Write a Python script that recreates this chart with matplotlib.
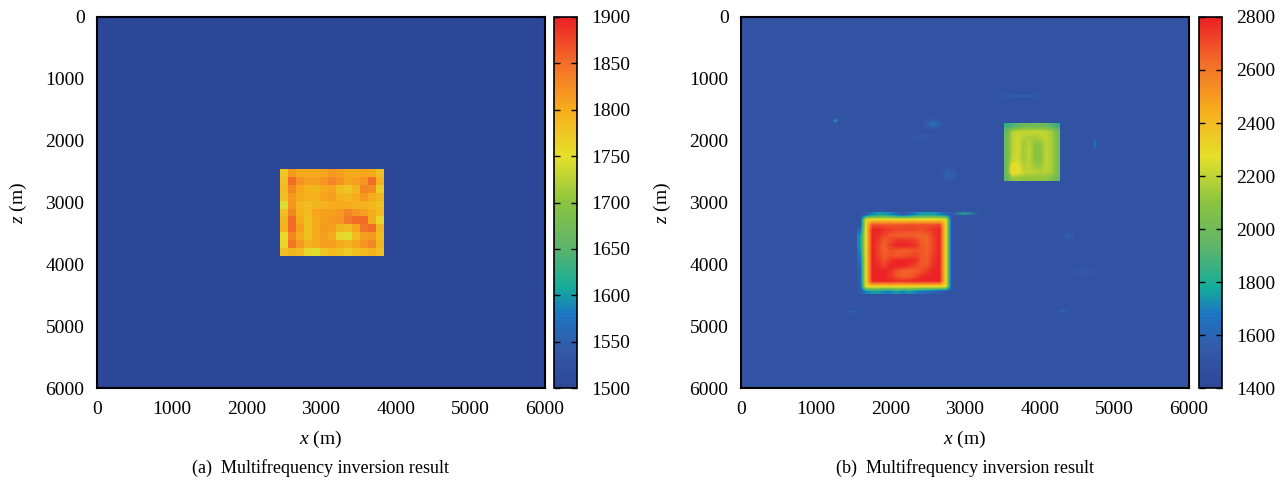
import numpy as np
import matplotlib
matplotlib.use("Agg")
import matplotlib.pyplot as plt
from matplotlib.colors import LinearSegmentedColormap

plt.rcParams['font.family'] = ['Liberation Serif', 'DejaVu Serif']
plt.rcParams['mathtext.fontset'] = 'custom'
plt.rcParams['mathtext.rm'] = 'Liberation Serif'
plt.rcParams['mathtext.it'] = 'Liberation Serif:italic'

# ---------------- data ----------------
domain = [0, 6000]
ticks_xy = [0, 1000, 2000, 3000, 4000, 5000, 6000]

# panel (a)
a_vmin, a_vmax = 1500, 1900
a_ticks = [1500, 1550, 1600, 1650, 1700, 1750, 1800, 1850, 1900]
a_background = 1500
a_block_x = [2451, 3834]
a_block_z = [2474, 3865]
a_block = np.array([
    [1775, 1815, 1800, 1800, 1800, 1805, 1815, 1810, 1800, 1800, 1805, 1800, 1780],
    [1780, 1850, 1820, 1810, 1810, 1820, 1830, 1820, 1805, 1810, 1820, 1850, 1795],
    [1785, 1830, 1805, 1795, 1790, 1800, 1805, 1785, 1775, 1790, 1830, 1825, 1770],
    [1780, 1815, 1800, 1795, 1795, 1805, 1810, 1795, 1790, 1800, 1815, 1800, 1790],
    [1745, 1820, 1790, 1785, 1790, 1795, 1800, 1800, 1800, 1795, 1795, 1790, 1780],
    [1780, 1830, 1795, 1785, 1805, 1810, 1810, 1815, 1830, 1820, 1810, 1800, 1785],
    [1790, 1850, 1800, 1780, 1800, 1810, 1815, 1820, 1840, 1850, 1850, 1800, 1760],
    [1795, 1850, 1810, 1780, 1800, 1815, 1810, 1790, 1785, 1805, 1845, 1850, 1790],
    [1755, 1830, 1800, 1780, 1800, 1810, 1800, 1760, 1745, 1785, 1810, 1815, 1785],
    [1760, 1845, 1815, 1795, 1800, 1810, 1810, 1800, 1795, 1805, 1820, 1830, 1790],
    [1780, 1790, 1785, 1760, 1745, 1775, 1785, 1780, 1770, 1780, 1785, 1795, 1780],
])

# panel (b)
b_vmin, b_vmax = 1400, 2800
b_ticks = [1400, 1600, 1800, 2000, 2200, 2400, 2600, 2800]
b_background = 1500
b_red_x = [1560, 2870]
b_red_z = [3170, 4480]
b_red = np.array([
    [1500, 1550, 1700, 1750, 1750, 1700, 1600, 1550, 1600, 1700, 1750, 1750, 1750, 1700, 1600, 1550],
    [1500, 2330, 2330, 2330, 2330, 2330, 2330, 2330, 2330, 2330, 2330, 2330, 2330, 2330, 2330, 1500],
    [1500, 2330, 2700, 2690, 2680, 2680, 2680, 2690, 2700, 2700, 2690, 2690, 2700, 2720, 2330, 1500],
    [1600, 2330, 2790, 2790, 2760, 2740, 2720, 2720, 2720, 2710, 2700, 2720, 2760, 2790, 2330, 1500],
    [1700, 2330, 2790, 2770, 2720, 2680, 2660, 2650, 2660, 2650, 2640, 2660, 2740, 2790, 2330, 1500],
    [1720, 2330, 2790, 2740, 2670, 2700, 2750, 2760, 2740, 2720, 2660, 2640, 2720, 2790, 2330, 1500],
    [1720, 2330, 2790, 2720, 2650, 2740, 2790, 2790, 2790, 2760, 2680, 2650, 2720, 2790, 2330, 1500],
    [1680, 2330, 2790, 2720, 2650, 2700, 2680, 2660, 2670, 2690, 2680, 2650, 2730, 2790, 2330, 1500],
    [1650, 2330, 2790, 2730, 2660, 2690, 2670, 2680, 2700, 2720, 2680, 2660, 2740, 2790, 2330, 1500],
    [1620, 2330, 2790, 2750, 2690, 2760, 2790, 2790, 2790, 2770, 2680, 2670, 2750, 2790, 2330, 1500],
    [1580, 2330, 2790, 2770, 2730, 2790, 2790, 2790, 2760, 2720, 2670, 2690, 2770, 2790, 2330, 1500],
    [1550, 2330, 2790, 2790, 2790, 2760, 2690, 2650, 2640, 2660, 2690, 2740, 2790, 2790, 2330, 1500],
    [1580, 2330, 2790, 2790, 2790, 2750, 2680, 2650, 2660, 2700, 2760, 2790, 2790, 2790, 2330, 1500],
    [1550, 2330, 2790, 2790, 2790, 2790, 2770, 2760, 2770, 2790, 2790, 2790, 2790, 2790, 2330, 1500],
    [1520, 2330, 2330, 2330, 2330, 2330, 2330, 2330, 2330, 2330, 2330, 2330, 2330, 2330, 2330, 1500],
    [1550, 1700, 1750, 1750, 1700, 1700, 1750, 1700, 1750, 1700, 1650, 1620, 1600, 1550, 1520, 1500],
])
b_green_x = [3522, 4272]
b_green_z = [1714, 2652]
b_green = np.array([
    [1850, 1880, 1950, 1980, 2000, 2000, 2000, 1980, 1920, 1850],
    [1980, 2180, 2200, 2210, 2210, 2220, 2210, 2200, 2150, 2020],
    [1990, 2190, 2230, 2180, 2160, 2160, 2180, 2210, 2160, 2030],
    [1990, 2190, 2230, 2140, 2180, 2110, 2110, 2200, 2160, 2030],
    [1990, 2190, 2230, 2140, 2200, 2100, 2090, 2200, 2160, 2030],
    [1990, 2190, 2230, 2140, 2200, 2100, 2090, 2200, 2160, 2030],
    [1990, 2220, 2240, 2150, 2200, 2110, 2100, 2200, 2160, 2030],
    [1990, 2310, 2280, 2170, 2200, 2140, 2120, 2200, 2160, 2030],
    [1990, 2330, 2280, 2210, 2200, 2180, 2180, 2190, 2150, 2030],
    [1950, 2120, 2120, 2110, 2110, 2110, 2110, 2100, 2060, 1980],
])
# small artefacts in (b): centre x, centre z, width, height, value
art_x = [1272, 2571, 2420, 2786, 3760, 4741, 4379, 4600, 4310, 1500, 2990]
art_z = [1682, 1730, 1950, 2555, 1278, 2054, 3558, 4120, 4771, 4771, 3186]
art_w = [60, 220, 250, 200, 700, 50, 150, 300, 130, 160, 300]
art_h = [70, 140, 120, 200, 45, 160, 150, 120, 50, 50, 50]
art_v = [1750, 1680, 1570, 1620, 1600, 1660, 1590, 1570, 1620, 1600, 1800]

captions = ["(a)  Multifrequency inversion result", "(b)  Multifrequency inversion result"]

# ---------------- colormap ----------------
cmap = LinearSegmentedColormap.from_list("rainbowish", [
    (0.00, "#2c4797"),
    (0.10, "#3558a8"),
    (0.20, "#1c77c3"),
    (0.27, "#14ac9c"),
    (0.375, "#5bb46c"),
    (0.50, "#8bc43f"),
    (0.625, "#e6e02b"),
    (0.75, "#f7ad1c"),
    (0.875, "#f36f29"),
    (1.00, "#ec2026"),
])

W, H = 1286, 494
fig = plt.figure(figsize=(W / 100, H / 100), dpi=100)

def fx(px):
    return px / W

def fy(py):
    return 1 - py / H

ax_a = fig.add_axes([fx(97), fy(388), fx(448), 371 / H])
cax_a = fig.add_axes([fx(554), fy(388), fx(23), 371 / H])
ax_b = fig.add_axes([fx(741), fy(388), fx(448), 371 / H])
cax_b = fig.add_axes([fx(1199), fy(388), fx(23), 371 / H])

ext_full = (domain[0], domain[1], domain[1], domain[0])

# panel a
im_a = ax_a.imshow([[a_background]], extent=ext_full, cmap=cmap, vmin=a_vmin, vmax=a_vmax,
                   interpolation='nearest', aspect='auto')
ax_a.imshow(a_block, extent=(a_block_x[0], a_block_x[1], a_block_z[1], a_block_z[0]),
            cmap=cmap, vmin=a_vmin, vmax=a_vmax, interpolation='nearest', aspect='auto')

# panel b
im_b = ax_b.imshow([[b_background]], extent=ext_full, cmap=cmap, vmin=b_vmin, vmax=b_vmax,
                   interpolation='nearest', aspect='auto')
for x, z, w, h, v in zip(art_x, art_z, art_w, art_h, art_v):
    patch = [[b_background] * 3, [b_background, v, b_background], [b_background] * 3]
    ax_b.imshow(patch, extent=(x - w, x + w, z + h, z - h), cmap=cmap, vmin=b_vmin, vmax=b_vmax,
                interpolation='bilinear', aspect='auto')
ax_b.imshow(b_red, extent=(b_red_x[0], b_red_x[1], b_red_z[1], b_red_z[0]),
            cmap=cmap, vmin=b_vmin, vmax=b_vmax, interpolation='bilinear', aspect='auto')
ax_b.imshow(b_green, extent=(b_green_x[0], b_green_x[1], b_green_z[1], b_green_z[0]),
            cmap=cmap, vmin=b_vmin, vmax=b_vmax, interpolation='bilinear', aspect='auto')

for ax, cax, im, ticks, cap in [(ax_a, cax_a, im_a, a_ticks, captions[0]),
                                (ax_b, cax_b, im_b, b_ticks, captions[1])]:
    ax.set_xlim(domain[0], domain[1])
    ax.set_ylim(domain[1], domain[0])
    ax.set_xticks(ticks_xy)
    ax.set_yticks(ticks_xy)
    ax.tick_params(length=0, labelsize=14, pad=9)
    for s in ax.spines.values():
        s.set_linewidth(1.5)
    ax.set_xlabel(r"$x$ (m)", fontsize=14, labelpad=8)
    ax.set_ylabel(r"$z$ (m)", fontsize=14, labelpad=12)
    cb = fig.colorbar(im, cax=cax, ticks=ticks)
    cb.outline.set_linewidth(1.2)
    cax.tick_params(direction='in', length=4, width=1.0, left=True, right=True,
                    labelsize=14, pad=10)
    bb = ax.get_position()
    fig.text((bb.x0 + bb.x1) / 2 + 0.0, fy(468), cap, ha='center', va='center', fontsize=13)

fig.savefig("out.png", dpi=100)
